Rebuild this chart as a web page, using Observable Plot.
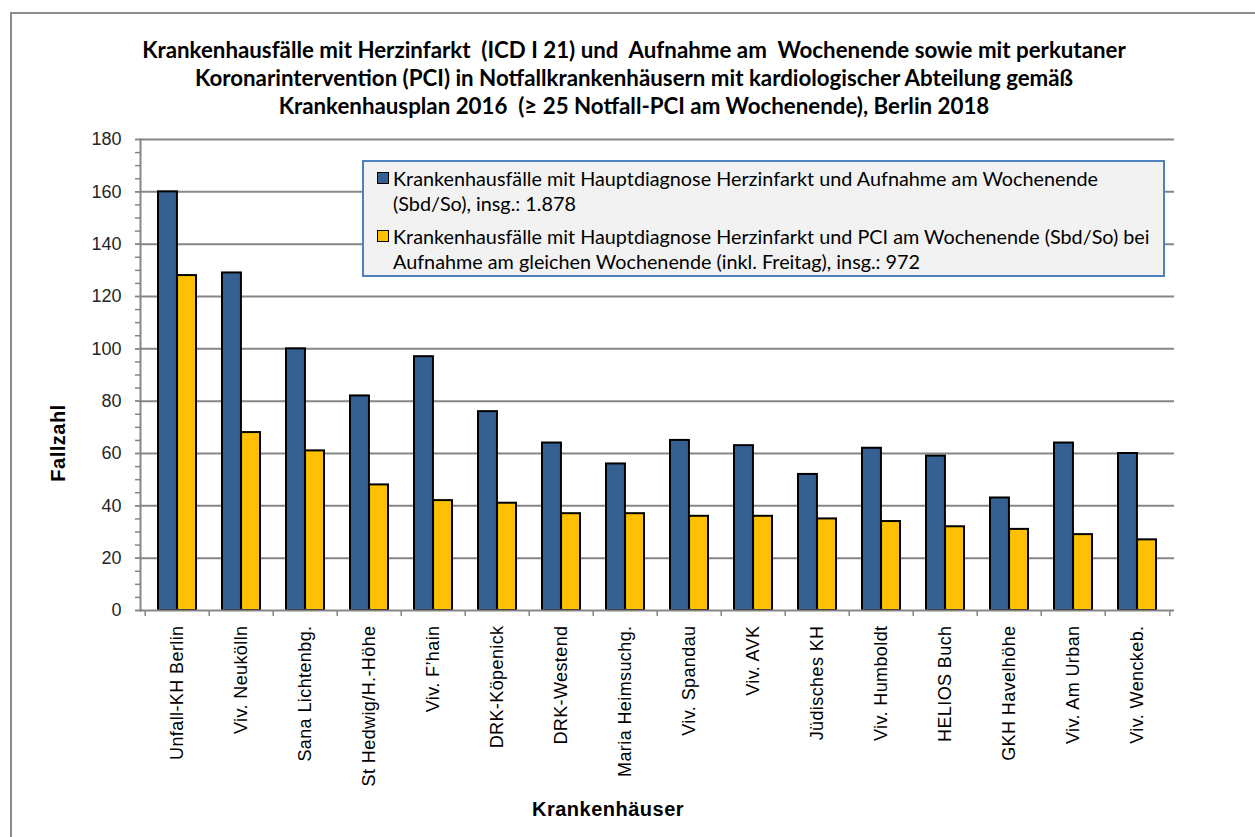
<!DOCTYPE html>
<html>
<head>
<meta charset="utf-8">
<script src="https://cdn.jsdelivr.net/npm/d3@7"></script>
<script src="https://cdn.jsdelivr.net/npm/@observablehq/plot@0.6"></script>
<style>
  body { margin: 0; background: #fff; }
  #page { position: relative; width: 1255px; height: 837px; overflow: hidden; font-family: "Liberation Sans", Arial, sans-serif; }
  #page > svg { position: absolute; left: 0; top: 0; }
  #border { position: absolute; left: 10px; top: 12px; width: 1300px; height: 900px; border: 2px solid #8c8c8c; box-sizing: border-box; }
  #title { position: absolute; left: 0; top: 36px; width: 1268px; text-align: center; font-family: Lato, sans-serif; font-weight: bold; font-size: 22.3px; line-height: 28px; color: #000; white-space: pre; }
  #legend { position: absolute; left: 362px; top: 160px; width: 803px; height: 117px; box-sizing: border-box; background: #f2f2f2; border: 2px solid #4f81bd; font-family: Lato, sans-serif; font-size: 19.8px; line-height: 25px; color: #000; }
  #legend .item { position: absolute; left: 29px; white-space: nowrap; }
  #legend .sw { position: absolute; left: -16px; top: 6px; width: 12px; height: 12px; box-sizing: border-box; border: 1.5px solid #000; }
  .axis-title { position: absolute; font-weight: bold; color: #000; transform: translate(-50%, -50%); white-space: nowrap; letter-spacing: 0.5px; }
  g[aria-label="x-axis tick label"] text { letter-spacing: 0.4px; }
</style>
</head>
<body>
<div id="page">
  <div id="border"></div>
  <div id="title"></div>
  <div class="axis-title" id="ytitle" style="left:58px; top:443px; font-size:20px; transform: translate(-50%, -50%) rotate(-90deg);"></div>
  <div class="axis-title" id="xtitle" style="left:608px; top:809px; font-size:20px;"></div>
  <div id="legend"></div>
</div>
<script>
// Krankenhäuser (Notfallkrankenhäuser mit kardiologischer Abteilung)
const hospitals = [
  "Unfall-KH Berlin", "Viv. Neukölln", "Sana Lichtenbg.", "St Hedwig/H.-Höhe",
  "Viv. F’hain", "DRK-Köpenick", "DRK-Westend", "Maria Heimsuchg.",
  "Viv. Spandau", "Viv. AVK", "Jüdisches KH", "Viv. Humboldt",
  "HELIOS Buch", "GKH Havelhöhe", "Viv. Am Urban", "Viv. Wenckeb."
];
// Fälle mit Hauptdiagnose Herzinfarkt und Aufnahme am Wochenende
const admissions = [160, 129, 100, 82, 97, 76, 64, 56, 65, 63, 52, 62, 59, 43, 64, 60];
// Fälle mit PCI am Wochenende bei Aufnahme am gleichen Wochenende
const pciCases = [128, 68, 61, 48, 42, 41, 37, 37, 36, 36, 35, 34, 32, 31, 29, 27];

const seriesNames = [
  ["Krankenhausfälle mit Hauptdiagnose Herzinfarkt und Aufnahme am Wochenende", "(Sbd/So), insg.: 1.878"],
  ["Krankenhausfälle mit Hauptdiagnose Herzinfarkt und PCI am Wochenende (Sbd/So) bei", "Aufnahme am gleichen Wochenende (inkl. Freitag), insg.: 972"]
];
const seriesColors = ["#366092", "#ffc000"];
const yTicks = [0, 20, 40, 60, 80, 100, 120, 140, 160, 180];

const titleLines = [
  "Krankenhausfälle mit Herzinfarkt  (ICD I 21) und  Aufnahme am  Wochenende sowie mit perkutaner",
  "Koronarintervention (PCI) in Notfallkrankenhäusern mit kardiologischer Abteilung gemäß",
  "Krankenhausplan 2016  (≥ 25 Notfall-PCI am Wochenende), Berlin 2018"
];

document.getElementById("title").textContent = titleLines.join("\n");
document.getElementById("ytitle").textContent = "Fallzahl";
document.getElementById("xtitle").textContent = "Krankenhäuser";

// Legende
const legend = document.getElementById("legend");
const legendTops = [4, 62];
seriesNames.forEach((lines, i) => {
  const item = document.createElement("div");
  item.className = "item";
  item.style.top = legendTops[i] + "px";
  const sw = document.createElement("span");
  sw.className = "sw";
  sw.style.background = seriesColors[i];
  item.appendChild(sw);
  lines.forEach(t => { const d = document.createElement("div"); d.textContent = t; item.appendChild(d); });
  legend.appendChild(item);
});

const rows = hospitals.map((name, i) => ({name, admissions: admissions[i], pci: pciCases[i]}));

// Layout
const width = 1255, height = 837;
const marginLeft = 140, marginRight = 81, marginTop = 139, marginBottom = 227;
const padInner = 0.41;
const step = (width - marginLeft - marginRight) / hospitals.length;
const halfGroup = step * (1 - padInner) / 2;
const gray = "#868686";

const chart = Plot.plot({
  width, height, marginLeft, marginRight, marginTop, marginBottom,
  style: {fontFamily: "'Liberation Sans', Arial, sans-serif", fontSize: "18px", color: "#262626", background: "transparent"},
  x: {type: "band", domain: hospitals, paddingInner: padInner, paddingOuter: padInner / 2, label: null},
  y: {domain: [0, 180], label: null},
  marks: [
    Plot.gridY(yTicks.filter(d => d > 0), {stroke: gray, strokeOpacity: 1, strokeWidth: 2}),
    Plot.barY(rows, {x: "name", y: "admissions", fill: seriesColors[0], stroke: "#000", strokeWidth: 2, insetRight: halfGroup}),
    Plot.barY(rows, {x: "name", y: "pci", fill: seriesColors[1], stroke: "#000", strokeWidth: 2, insetLeft: halfGroup}),
    Plot.ruleY([0], {stroke: gray, strokeWidth: 2}),
    Plot.frame({anchor: "left", stroke: gray, strokeWidth: 2}),
    // Hilfsstriche alle 5 Einheiten
    Plot.axisY({ticks: d3.range(0, 181, 5), tickSize: 5, text: null, stroke: gray, strokeWidth: 1.5, label: null}),
    Plot.axisY({ticks: yTicks, tickSize: 5, tickPadding: 14, stroke: gray, strokeWidth: 1.5, fill: "#262626", label: null}),
    // Teilstriche an den Kategoriegrenzen
    Plot.axisX({tickSize: 6, text: null, dx: -step / 2, stroke: gray, strokeWidth: 1.5, label: null}),
    Plot.axisX({ticks: hospitals.slice(-1), tickSize: 6, text: null, dx: step / 2, stroke: gray, strokeWidth: 1.5, label: null}),
    Plot.axisX({tickSize: 0, tickPadding: 15, tickRotate: -90, fill: "#000", label: null})
  ]
});
document.getElementById("page").insertBefore(chart, document.getElementById("border"));
</script>
</body>
</html>
